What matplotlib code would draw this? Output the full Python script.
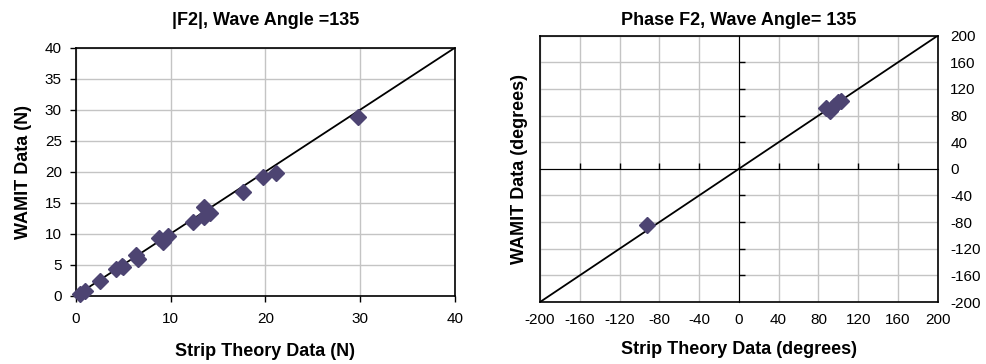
import numpy as np
import matplotlib.pyplot as plt

plt.rcParams['font.family'] = ['Liberation Sans', 'DejaVu Sans']
plt.rcParams['axes.unicode_minus'] = False

# |F2| comparison, wave angle 135
strip_mag = [0.4, 1.0, 2.6, 4.25, 4.85, 5.0, 6.4, 6.6, 8.8, 9.25, 9.7,
             12.4, 13.5, 13.5, 14.2, 17.6, 19.7, 21.1, 29.8]
wamit_mag = [0.3, 0.8, 2.4, 4.3, 4.8, 4.7, 6.6, 6.0, 9.3, 8.7, 9.6,
             11.9, 14.3, 12.7, 13.4, 16.7, 19.1, 19.8, 28.8]

# phase F2 comparison, wave angle 135
strip_ph = [-92.4, 87.7, 91.7, 95.7, 99.7, 102.8]
wamit_ph = [-84.3, 91.4, 86.9, 94.4, 100.4, 101.9]

mag_ticks_x = [0, 10, 20, 30, 40]
mag_ticks_y = [0, 5, 10, 15, 20, 25, 30, 35, 40]
ph_ticks = [-200, -160, -120, -80, -40, 0, 40, 80, 120, 160, 200]

mcol = '#4d4472'
gcol = '#c4c4c4'
tfs = 11
lfs = 13

fig = plt.figure(figsize=(9.86, 3.64), dpi=100)

# left chart
ax1 = fig.add_axes([0.0768, 0.1876, 0.3847, 0.6814])
ax1.set_xlim(0, 40)
ax1.set_ylim(0, 40)
ax1.set_xticks(mag_ticks_x)
ax1.set_yticks(mag_ticks_y)
ax1.grid(True, color=gcol, linewidth=1)
ax1.set_axisbelow(True)
ax1.plot([0, 40], [0, 40], color='black', linewidth=1.3, zorder=2)
ax1.plot(strip_mag, wamit_mag, linestyle='none', marker='D', markersize=8,
         color=mcol, zorder=3, clip_on=False)
for s in ax1.spines.values():
    s.set_linewidth(1.2)
ax1.tick_params(direction='out', length=4, width=1, labelsize=tfs, pad=6)
ax1.tick_params(axis='x', pad=8)
ax1.set_title('|F2|, Wave Angle =135', fontsize=lfs, fontweight='bold', pad=16)
ax1.set_xlabel('Strip Theory Data (N)', fontsize=lfs, fontweight='bold', labelpad=12)
ax1.set_ylabel('WAMIT Data (N)', fontsize=lfs, fontweight='bold', labelpad=9)

# right chart
ax2 = fig.add_axes([0.5477, 0.1703, 0.4033, 0.7316])
ax2.set_xlim(-200, 200)
ax2.set_ylim(-200, 200)
ax2.set_xticks(ph_ticks)
ax2.set_yticks(ph_ticks)
ax2.grid(True, color=gcol, linewidth=1)
ax2.set_axisbelow(True)
ax2.yaxis.tick_right()
ax2.tick_params(length=0, labelsize=tfs, pad=9)
ax2.tick_params(axis='x', pad=8)
for s in ax2.spines.values():
    s.set_linewidth(1.2)
ax2.plot([-200, 200], [-200, 200], color='black', linewidth=1.3, zorder=2)
ax2.plot(strip_ph, wamit_ph, linestyle='none', marker='D', markersize=8,
         color=mcol, zorder=3)

# axis lines through the origin with small ticks
inner_ticks = ph_ticks[1:-1]
sy = ax2.secondary_yaxis(0.5)
sy.set_zorder(1.5)
sy.set_yticks(inner_ticks)
sy.set_yticklabels([])
sy.tick_params(direction='out', length=4, width=1, color='black')
sy.spines['left'].set_linewidth(1.2)
sy.spines['left'].set_color('black')
sx = ax2.secondary_xaxis(0.5)
sx.set_zorder(1.5)
sx.set_xticks(inner_ticks)
sx.set_xticklabels([])
sx.tick_params(direction='out', length=4, width=1, color='black')
sx.spines['bottom'].set_linewidth(1.2)
sx.spines['bottom'].set_color('black')

ax2.set_title('Phase F2, Wave Angle= 135', fontsize=lfs, fontweight='bold', pad=7.5)
ax2.set_xlabel('Strip Theory Data (degrees)', fontsize=lfs, fontweight='bold', labelpad=10)
ax2.set_ylabel('WAMIT Data (degrees)', fontsize=lfs, fontweight='bold', labelpad=9)
ax2.yaxis.set_label_position('left')

fig.savefig('out.png', dpi=100)
